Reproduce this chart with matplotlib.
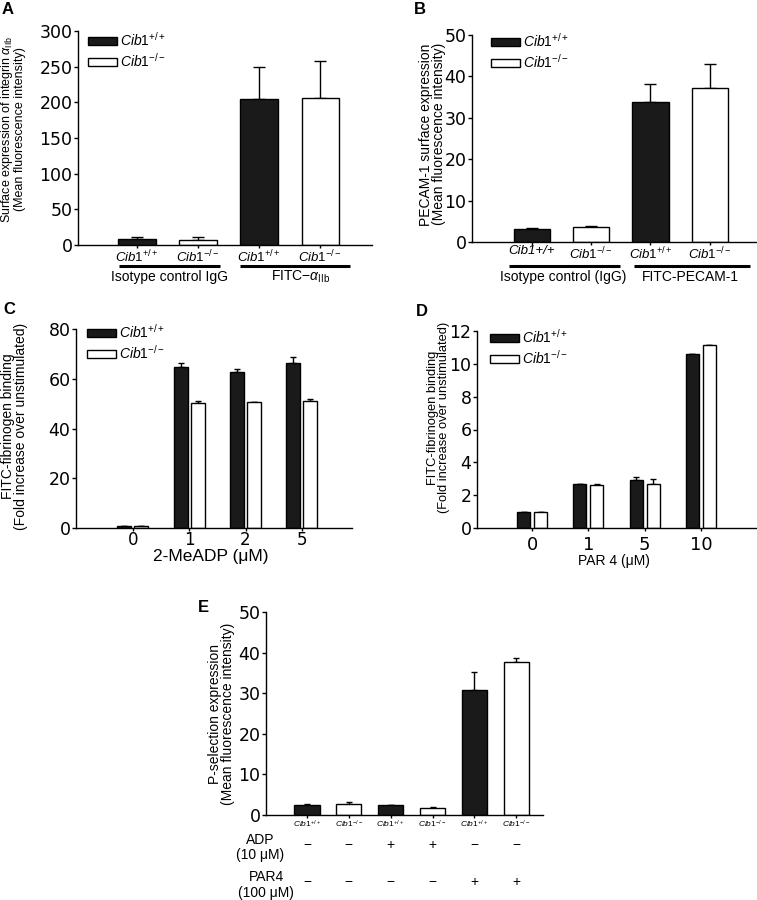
import matplotlib
matplotlib.use('Agg')
import matplotlib.pyplot as plt
import matplotlib.transforms as mtransforms
from matplotlib.patches import Patch

plt.rcParams['font.family'] = ['Liberation Sans', 'DejaVu Sans']
plt.rcParams['mathtext.fontset'] = 'custom'
plt.rcParams['mathtext.rm'] = 'Liberation Sans'
plt.rcParams['mathtext.it'] = 'Liberation Sans:italic'
plt.rcParams['mathtext.bf'] = 'Liberation Sans:bold'

WT = r'$\mathit{Cib1}^{+/+}$'
KO = r'$\mathit{Cib1}^{-/-}$'
BLACK = '#1a1a1a'

# ---- data ----
# A: surface integrin aIIb, bars in order wt, ko, wt, ko
a_vals = [8.4, 7.2, 204, 206.5]
a_err = [2.6, 3.8, 46, 51.5]
a_ticks = [WT, KO, WT, KO]
a_groups = ['Isotype control IgG', r'FITC$-\alpha_{\rm IIb}$']

# B: PECAM-1
b_vals = [3.1, 3.7, 33.7, 37.3]
b_err = [0.4, 0.2, 4.4, 5.6]
b_ticks = ['Cib1+/+', KO, WT, KO]
b_groups = ['Isotype control (IgG)', 'FITC-PECAM-1']

# C: fibrinogen binding vs 2-MeADP
c_doses = ['0', '1', '2', '5']
c_wt = [0.9, 64.9, 62.6, 66.5]
c_wt_err = [0, 1.6, 1.2, 2.2]
c_ko = [1.0, 50.4, 50.5, 50.9]
c_ko_err = [0, 0.6, 0.2, 1.1]

# D: fibrinogen binding vs PAR4
d_doses = ['0', '1', '5', '10']
d_wt = [1.0, 2.7, 2.95, 10.58]
d_wt_err = [0, 0, 0.15, 0.03]
d_ko = [1.0, 2.64, 2.65, 11.17]
d_ko_err = [0, 0.07, 0.35, 0]

# E: P-selectin
e_vals = [2.46, 2.7, 2.46, 1.8, 30.9, 37.7]
e_err = [0.2, 0.6, 0, 0.17, 4.3, 1.0]
e_ticks = [WT, KO, WT, KO, WT, KO]
e_adp = ['\u2212', '\u2212', '+', '+', '\u2212', '\u2212']
e_par4 = ['\u2212', '\u2212', '\u2212', '\u2212', '+', '+']

W, H = 757, 900
fig = plt.figure(figsize=(W / 100, H / 100), dpi=100)


def px_axes(l, t, r, b):
    return fig.add_axes([l / W, 1 - b / H, (r - l) / W, (b - t) / H])


def style(ax, top, yticks):
    ax.spines['top'].set_visible(False)
    ax.spines['right'].set_visible(False)
    ax.spines['left'].set_linewidth(1.0)
    ax.spines['bottom'].set_linewidth(1.0)
    ax.set_ylim(0, top)
    ax.set_yticks(yticks)
    ax.tick_params(axis='y', length=3, width=1, pad=1, labelsize=12.5)
    ax.tick_params(axis='x', length=2.5, width=1, pad=0.5)
    for lab in ax.get_yticklabels():
        lab.set_fontfamily('DejaVu Sans')


def legend(ax, x, y):
    handles = [Patch(facecolor=BLACK, edgecolor='black', lw=1),
               Patch(facecolor='white', edgecolor='black', lw=1)]
    ax.legend(handles, [WT, KO], loc='upper left', bbox_to_anchor=(x, y),
              frameon=False, fontsize=10, handlelength=2.1, handleheight=0.5,
              handletextpad=0.2, labelspacing=0.22, borderpad=0,
              borderaxespad=0)


def errs(ax, x, vals, err, cap):
    ax.errorbar(x, vals, yerr=[[0] * len(err), err], fmt='none',
                ecolor='black', elinewidth=1, capsize=cap, capthick=1,
                zorder=1)


def grouped_panel(ax, labels, vals, err, groups, under, gy, uy):
    x = list(range(len(vals)))
    colors = [BLACK if i % 2 == 0 else 'white' for i in x]
    errs(ax, x, vals, err, 4)
    ax.bar(x, vals, width=0.61, color=colors, edgecolor='black', lw=1,
           zorder=2)
    ax.set_xticks(x)
    ax.set_xticklabels(labels, fontsize=9.5, style='italic')
    ax.tick_params(axis='x', pad=0)
    trans = mtransforms.blended_transform_factory(ax.transData, ax.transAxes)
    for (x0, x1), name, gx in zip(under, groups, [0.53, 2.68]):
        ax.plot([x0, x1], [uy, uy], color='black', lw=2.2, transform=trans,
                clip_on=False, solid_capstyle='butt')
        ax.text(gx, gy, name, transform=trans, ha='center', va='center',
                fontsize=10)


# ---- A ----
axA = px_axes(78, 31, 372, 245)
style(axA, 300, [0, 50, 100, 150, 200, 250, 300])
grouped_panel(axA, a_ticks, a_vals, a_err, a_groups,
              [(-0.30, 1.36), (1.69, 3.49)], -0.15, -0.098)
axA.set_xlim(-0.967, 3.85)
axA.set_ylabel('Surface expression of integrin ' + r'$\alpha_{\rm IIb}$'
               + '\n(Mean fluorescence intensity)', fontsize=9,
               linespacing=0.8)
axA.yaxis.set_label_coords(-0.178, 0.54)
legend(axA, 0.034, 1.0)

# ---- B ----
axB = px_axes(472, 35, 756, 242)
style(axB, 50, [0, 10, 20, 30, 40, 50])
grouped_panel(axB, b_ticks, b_vals, b_err, b_groups,
              [(-0.39, 1.48), (1.72, 3.68)], -0.17, -0.116)
axB.set_xlim(-1.01, 3.78)
axB.set_ylabel('PECAM-1 surface expression\n(Mean fluorescence intensity)',
               fontsize=10, linespacing=0.9)
axB.yaxis.set_label_coords(-0.092, 0.52)
legend(axB, 0.067, 1.015)


def dose_panel(ax, doses, wt, wt_err, ko, ko_err, bw, off, size):
    x = list(range(len(doses)))
    xw = [i - off for i in x]
    xk = [i + off for i in x]
    errs(ax, xw, wt, wt_err, 2.5)
    errs(ax, xk, ko, ko_err, 2.5)
    ax.bar(xw, wt, width=bw, color=BLACK, edgecolor='black', lw=1, zorder=2)
    ax.bar(xk, ko, width=bw, color='white', edgecolor='black', lw=1, zorder=2)
    ax.set_xticks(x)
    ax.set_xticklabels(doses, fontsize=size)
    for lab in ax.get_xticklabels():
        lab.set_fontfamily('DejaVu Sans')


# ---- C ----
axC = px_axes(76, 329, 352, 528)
style(axC, 80, [0, 20, 40, 60, 80])
dose_panel(axC, c_doses, c_wt, c_wt_err, c_ko, c_ko_err, 0.25, 0.15, 12)
axC.tick_params(axis='x', length=2, pad=0)
axC.set_xlim(-1.01, 3.89)
axC.set_ylabel('FITC-fibrinogen binding\n(Fold increase over unstimulated)',
               fontsize=10, linespacing=0.9)
axC.yaxis.set_label_coords(-0.174, 0.51)
axC.text(0.49, -0.145, '2-MeADP (\u03bcM)', transform=axC.transAxes,
         ha='center', va='center', fontsize=12.5)
legend(axC, 0.04, 1.03)

# ---- D ----
axD = px_axes(477, 331, 756, 528)
style(axD, 12, [0, 2, 4, 6, 8, 10, 12])
dose_panel(axD, d_doses, d_wt, d_wt_err, d_ko, d_ko_err, 0.23, 0.15, 13)
axD.tick_params(axis='x', length=2.5, pad=3)
axD.set_xlim(-0.98, 3.98)
axD.set_ylabel('FITC-fibrinogen binding\n(Fold increase over unstimulated)',
               fontsize=9.3, linespacing=0.9)
axD.yaxis.set_label_coords(-0.097, 0.56)
axD.text(0.49, -0.17, 'PAR 4 (\u03bcM)', transform=axD.transAxes,
         ha='center', va='center', fontsize=10)
legend(axD, 0.047, 1.016)

# ---- E ----
axE = px_axes(266, 612, 543, 815)
style(axE, 50, [0, 10, 20, 30, 40, 50])
xe = list(range(len(e_vals)))
errs(axE, xe, e_vals, e_err, 2.5)
axE.bar(xe, e_vals, width=0.6,
        color=[BLACK if i % 2 == 0 else 'white' for i in xe],
        edgecolor='black', lw=1, zorder=2)
axE.set_xticks(xe)
axE.set_xticklabels(e_ticks, fontsize=6)
axE.tick_params(axis='x', pad=0)
axE.set_xlim(-0.98, 5.64)
axE.set_ylabel('P-selection expression\n(Mean fluorescence intensity)',
               fontsize=10, linespacing=0.9)
axE.yaxis.set_label_coords(-0.112, 0.50)
tE = mtransforms.blended_transform_factory(axE.transData, axE.transAxes)
for i in xe:
    axE.text(i, -0.148, e_adp[i], transform=tE, ha='center', va='center',
             fontsize=10)
    axE.text(i, -0.33, e_par4[i], transform=tE, ha='center', va='center',
             fontsize=10)
axE.text(-1.12, -0.16, 'ADP\n(10 \u03bcM)', transform=tE, ha='center',
         va='center', fontsize=10, linespacing=1.1)
axE.text(-0.98, -0.345, 'PAR4\n(100 \u03bcM)', transform=tE, ha='center',
         va='center', fontsize=10, linespacing=1.1)

# panel letters
for letter, px, py in [('A', 2, 9), ('B', 414, 9), ('C', 3, 310),
                       ('D', 416, 312), ('E', 198, 607)]:
    fig.text(px / W, 1 - py / H, letter, fontsize=12, fontweight='bold',
             ha='left', va='center')

fig.savefig('out.png', dpi=100)
